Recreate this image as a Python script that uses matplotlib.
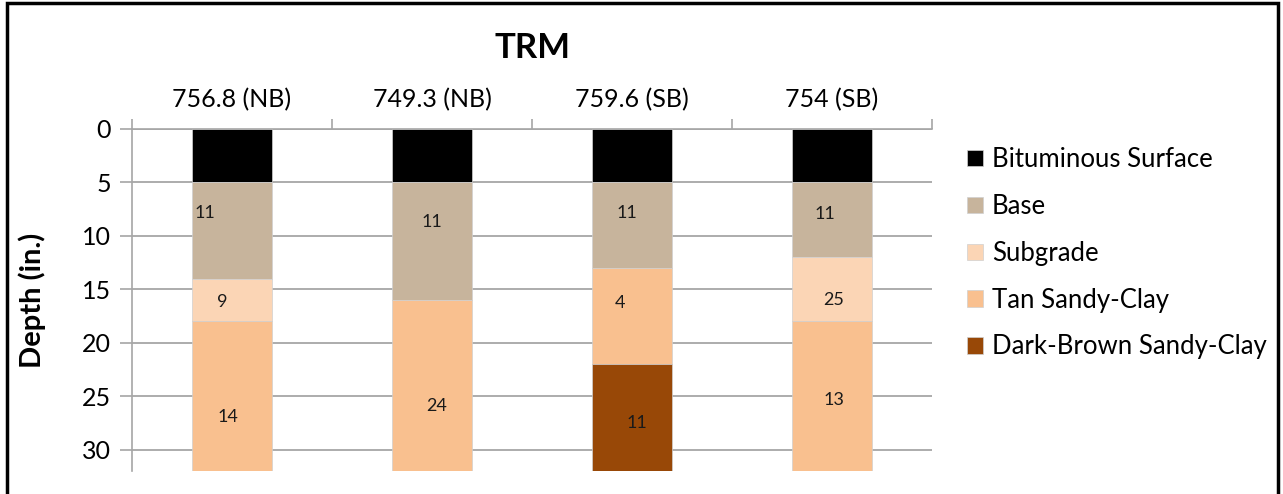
import numpy as np
import matplotlib.pyplot as plt
from matplotlib.patches import Rectangle

# Soil profile data (depth in inches)
sites = ["756.8 (NB)", "749.3 (NB)", "759.6 (SB)", "754 (SB)"]
layers = ["Bituminous Surface", "Base", "Subgrade", "Tan Sandy-Clay", "Dark-Brown Sandy-Clay"]

# layer thickness per site, same order as layers
bituminous = [5, 5, 5, 5]
base = [9, 11, 8, 7]
subgrade = [4, 0, 0, 6]
tan_clay = [14, 16, 9, 14]
dark_clay = [0, 0, 10, 0]

# numbers written inside each layer (None = no label)
lbl_bituminous = [None, None, None, None]
lbl_base = [11, 11, 11, 11]
lbl_subgrade = [9, None, None, 25]
lbl_tan = [14, 24, 4, 13]
lbl_dark = [None, None, 11, None]

colors = ["#000000", "#C7B49C", "#FBD5B5", "#F9C08F", "#984807"]

# small manual nudges of the labels (pixels, +y = down), as in the original
nudges = {
    (0, 1): (-27, -18), (0, 2): (-10, 2), (0, 3): (-4, 21),
    (1, 1): (0, -19), (1, 3): (5, 21),
    (2, 1): (-5, -12), (2, 3): (-12, -13), (2, 4): (5, 5),
    (3, 1): (-7, -6), (3, 2): (2, 11), (3, 3): (2, 4),
}

plt.rcParams["font.family"] = ["Lato", "DejaVu Sans"]

fig = plt.figure(figsize=(12.83, 4.94), dpi=100)
ax = fig.add_axes([0.1029, 0.0466, 0.6235, 0.6923])

thick = [bituminous, base, subgrade, tan_clay, dark_clay]
labels = [lbl_bituminous, lbl_base, lbl_subgrade, lbl_tan, lbl_dark]
x = np.arange(len(sites))
bottom = np.zeros(len(sites))

for k, name in enumerate(layers):
    h = np.array(thick[k], dtype=float)
    ax.bar(x, h, width=0.4, bottom=bottom, color=colors[k], label=name,
           edgecolor="#D0D0D0", linewidth=0.5, zorder=3)
    for i in range(len(sites)):
        if labels[k][i] is None or h[i] == 0:
            continue
        dx, dy = nudges.get((i, k), (0, 0))
        ax.annotate(str(labels[k][i]), (x[i], bottom[i] + h[i] / 2),
                    xytext=(dx * 0.72, -dy * 0.72), textcoords="offset points",
                    ha="center", va="center", fontsize=13, color="#1a1a1a", zorder=4)
    bottom = bottom + h

ax.set_xlim(-0.5, len(sites) - 0.5)
ax.set_ylim(32, 0)
ax.set_yticks(np.arange(0, 31, 5))
ax.yaxis.grid(True, color="#A6A6A6", linewidth=1.3, zorder=0)
ax.set_axisbelow(True)

ax.xaxis.tick_top()
ax.set_xticks(x)
ax.set_xticklabels(sites, fontsize=18)
ax.set_xticks(np.arange(len(sites) + 1) - 0.5, minor=True)
ax.tick_params(axis="x", which="major", length=0, pad=13)
ax.tick_params(axis="x", which="minor", length=7, color="#A6A6A6", width=1.2)
ax.tick_params(axis="y", length=9, color="#A6A6A6", width=1.2, labelsize=18, pad=6)

for side in ["right", "bottom"]:
    ax.spines[side].set_visible(False)
ax.spines["left"].set_color("#A6A6A6")
ax.spines["top"].set_color("#A6A6A6")
ax.spines["left"].set_linewidth(1.2)
ax.spines["top"].set_linewidth(1.2)

ax.set_ylabel("Depth (in.)", fontsize=21, fontweight="bold", labelpad=26)
fig.text(0.4147, 0.903, "TRM", ha="center", va="center", fontsize=25, fontweight="bold")

fig.legend(loc="upper left", bbox_to_anchor=(0.736, 0.749), frameon=False,
           fontsize=18.5, handlelength=0.6, handleheight=0.6, handletextpad=0.35,
           labelspacing=0.85)

# black frame around the whole picture
fig.patches.append(Rectangle((0.0055, -0.05), 0.9905, 1.044, transform=fig.transFigure,
                             fill=False, edgecolor="black", linewidth=2.5))

fig.savefig("out.png", dpi=100)
